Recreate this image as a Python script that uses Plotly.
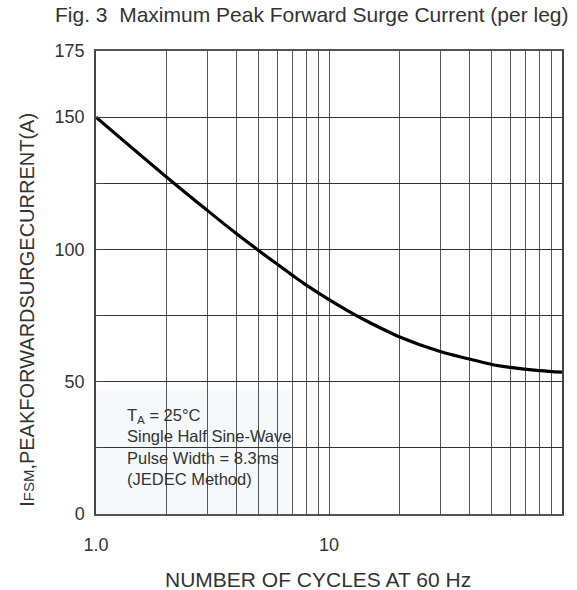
import plotly.graph_objects as go

# Data
cycles = [1, 2, 3, 4, 5, 6, 7, 8, 10, 12, 15, 20, 30, 40, 50, 60, 80, 100]
current = [150, 127.5, 114.8, 106.0, 99.5, 94.4, 90.1, 86.5, 81.0, 76.9, 72.3,
           67.0, 61.4, 58.6, 56.5, 55.4, 54.2, 53.6]

x_tickvals = [1, 2, 3, 4, 5, 6, 7, 8, 9, 10, 20, 30, 40, 50, 60, 70, 80, 90, 100]
x_ticktext = ["1.0", "", "", "", "", "", "", "", "", "10", "", "", "", "", "", "", "", "", ""]
y_tickvals = [0, 25, 50, 75, 100, 125, 150, 175]
y_ticktext = ["0", "", "50", "", "100", "", "150", "175"]

FONT = "Liberation Sans, Arial, sans-serif"
TXT = "#333333"

fig = go.Figure()
fig.add_trace(go.Scatter(
    x=cycles, y=current, mode="lines",
    line=dict(color="#000000", width=3.2, shape="spline", smoothing=1.0),
    showlegend=False, hoverinfo="skip"))

fig.update_layout(
    width=577, height=590,
    margin=dict(l=96, r=15, t=51, b=76, autoexpand=False),
    paper_bgcolor="white", plot_bgcolor="white",
    font=dict(family=FONT, color=TXT, size=18),
    showlegend=False,
)

fig.update_xaxes(
    type="log", range=[0, 2],
    tickmode="array", tickvals=x_tickvals, ticktext=x_ticktext, tickangle=0,
    showgrid=True, gridcolor="#555555", gridwidth=1,
    ticks="inside", ticklen=8, tickcolor="#555555", tickwidth=1,
    showline=True, linecolor="#555555", linewidth=1.5, mirror=True,
    tickfont=dict(size=18, color=TXT), ticklabelstandoff=14,
    zeroline=False, automargin=False,
)
fig.update_yaxes(
    range=[0, 175],
    tickmode="array", tickvals=y_tickvals, ticktext=y_ticktext,
    showgrid=True, gridcolor="#333333", gridwidth=1,
    ticks="inside", ticklen=7, tickcolor="#444444", tickwidth=1,
    showline=True, linecolor="#444444", linewidth=1.5, mirror=True,
    tickfont=dict(size=18, color=TXT), ticklabelstandoff=6,
    zeroline=False, automargin=False,
)

# Condition box covering grid lines
fig.add_shape(type="rect", xref="paper", yref="y",
              x0=0, x1=0.4194, y0=0, y1=47,
              fillcolor="#f6f9fc", line=dict(width=0), layer="between")

fig.add_annotation(
    xref="paper", yref="paper", x=0.062, y=0.2375,
    xanchor="left", yanchor="top", align="left", showarrow=False,
    text="T<sub>A</sub> = 25°C<br>Single Half Sine-Wave<br>Pulse Width = 8.3ms<br>(JEDEC Method)",
    font=dict(size=16.5, color=TXT, family=FONT))

# Title and axis titles
fig.add_annotation(
    xref="paper", yref="paper", x=0.4635, y=1.0778,
    xanchor="center", yanchor="middle", showarrow=False,
    text="Fig. 3\u00a0\u00a0Maximum Peak Forward Surge Current (per leg)",
    font=dict(size=21, color=TXT, family=FONT))
fig.add_annotation(
    xref="paper", yref="paper", x=0.476, y=-0.1425,
    xanchor="center", yanchor="middle", showarrow=False,
    text="NUMBER OF CYCLES AT 60 Hz",
    font=dict(size=21, color=TXT, family=FONT))
fig.add_annotation(
    xref="paper", yref="paper", x=-0.148, y=0.441,
    xanchor="center", yanchor="middle", showarrow=False, textangle=-90,
    text="I<span style='font-size:15px'>FSM</span>,PEAKFORWARDSURGECURRENT(A)",
    font=dict(size=20, color=TXT, family=FONT))

fig.write_html("out.html", config={"displayModeBar": False},
               post_script="document.body.style.margin='0';")
